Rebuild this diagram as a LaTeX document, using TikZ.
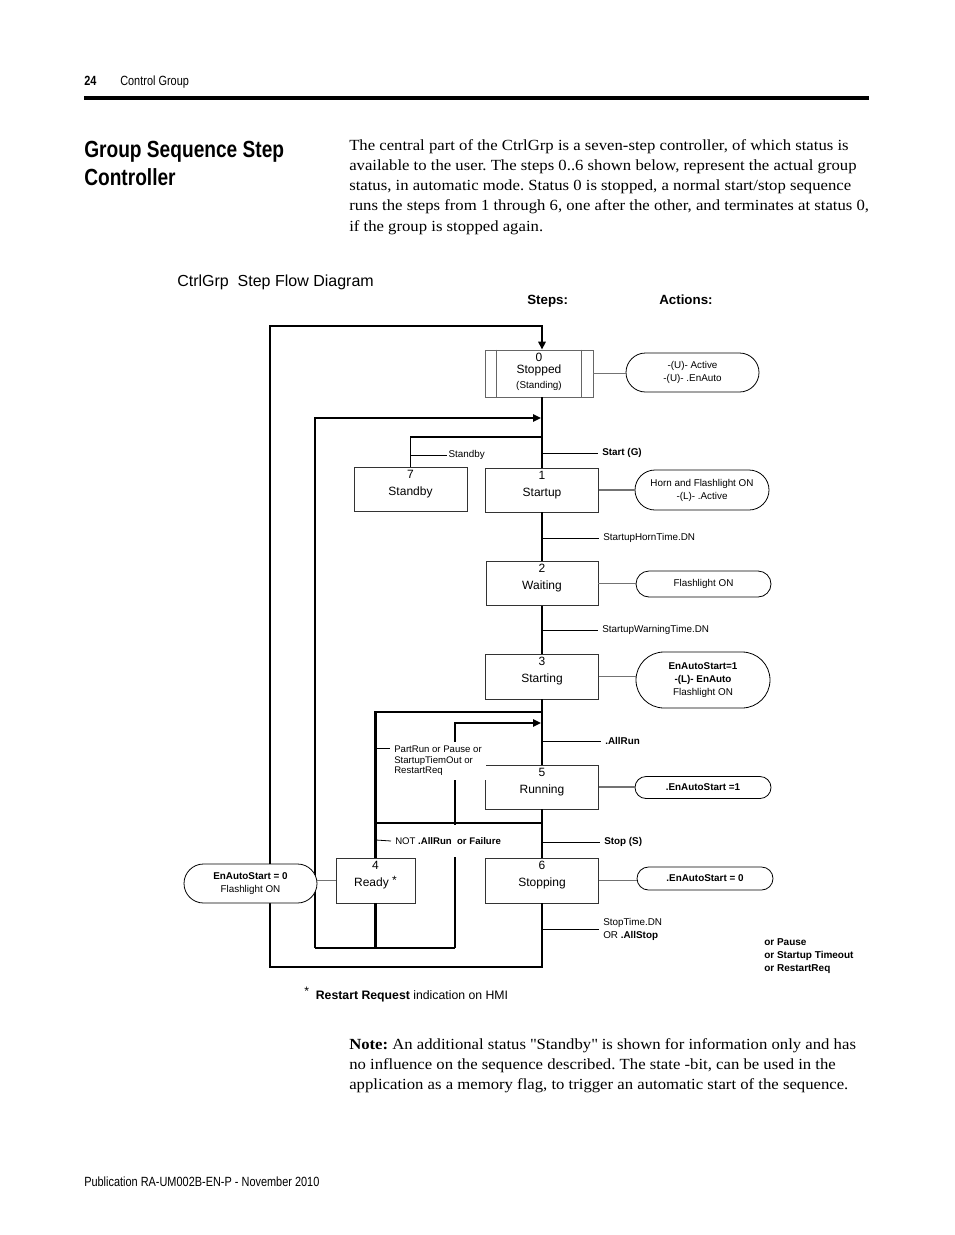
\documentclass[tikz,border=0pt]{standalone}
\usepackage{fontspec}
\setmainfont{Liberation Serif}[FakeStretch=1.08]
\newfontfamily\condfont[FakeStretch=0.82]{Liberation Sans}
\newfontfamily\diagfont{Liberation Sans}
\usetikzlibrary{arrows.meta,shapes.misc}

\newcommand{\stepfont}{\diagfont\fontsize{9}{11}\selectfont}
\newcommand{\actfont}{\diagfont\fontsize{7.4}{9.75}\selectfont}
\newcommand{\notefont}{\diagfont\fontsize{7.2}{7.9}\selectfont}
\newcommand{\bodyfont}{\fontsize{11.6}{15}\selectfont\frenchspacing}

\tikzset{
  stepbox/.style={draw=black!80, fill=white, line width=0.6pt, inner sep=0pt, font=\stepfont},
  namebox/.style={stepbox, text height=9pt, text depth=0pt},
  boxsize/.style 2 args={minimum width={#1*0.75pt}, minimum height={#2*0.75pt}},
  stepno/.style={label={[anchor=north, inner sep=2.2pt, font=\stepfont]north:#1}},
  actbox/.style={rounded rectangle, draw=black, fill=white, line width=0.6pt, inner sep=0pt, font=\actfont, align=center},
  trans/.style={font=\actfont, inner sep=3pt, anchor=west},
  txt/.style={inner sep=0pt, anchor=base west},
  mainline/.style={line width=2pt},
  loopline/.style={line width=1.6pt},
  tick/.style={line width=0.6pt},
  link/.style={draw=black!55, line width=0.8pt},
  arr/.style={-{Triangle[length=6pt,width=5.5pt]}}
}

\begin{document}
\begin{tikzpicture}[x=0.75pt,y=-0.75pt]
\useasboundingbox[fill=white] (0,0) rectangle (954,1235);

% page header
\node[txt, font=\condfont\bfseries\fontsize{10}{12}\selectfont] (pgno) at (84,85.5) {24};
\node[txt, font=\condfont\fontsize{10}{12}\selectfont] (chap) at (120,85.5) {Control Group};
\draw[line width=2.3pt] (84,98) -- (869,98);

% section title and text
\node[txt, font=\condfont\bfseries\fontsize{17.5}{21}\selectfont] (title1) at (84,157) {Group Sequence Step};
\node[txt, font=\condfont\bfseries\fontsize{17.5}{21}\selectfont] (title2) at (84,185) {Controller};
\foreach \ptext [count=\i] in {
  {The central part of the CtrlGrp is a seven-step controller, of which status is},
  {available to the user. The steps 0..6 shown below, represent the actual group},
  {status, in automatic mode. Status 0 is stopped, a normal start/stop sequence},
  {runs the steps from 1 through 6, one after the other, and terminates at status 0,},
  {if the group is stopped again.}}
  \node[txt, font=\bodyfont] (intro\i) at (349,{130+20.2*\i}) {\ptext};

% diagram headings
\node[txt, font=\diagfont\fontsize{12}{14}\selectfont] (dtitle) at (177,286.5) {CtrlGrp\ \ Step Flow Diagram};
\node[txt, font=\diagfont\bfseries\fontsize{10}{12}\selectfont] (steps) at (527,304) {Steps:};
\node[txt, font=\diagfont\bfseries\fontsize{10}{12}\selectfont] (actions) at (659,304) {Actions:};

% steps
\node[stepbox, draw=black!60, align=center, boxsize={108}{47}, stepno=0] (b0) at (539,373.5) {\\[2pt]Stopped\\[0.5pt]{\actfont (Standing)}};
\draw[black!60, line width=0.6pt] ([xshift=9pt]b0.north west) -- ([xshift=9pt]b0.south west);
\draw[black!60, line width=0.6pt] ([xshift=-9pt]b0.north east) -- ([xshift=-9pt]b0.south east);
\node[namebox, boxsize={113}{44}, stepno=7] (b7) at (410.5,489) {Standby};
\node[namebox, boxsize={113}{44}, stepno=1] (b1) at (542,490) {Startup};
\node[namebox, boxsize={112}{44}, stepno=2] (b2) at (542,583.5) {Waiting};
\node[namebox, boxsize={113}{45}, stepno=3] (b3) at (542,676.5) {Starting};
\node[namebox, boxsize={113}{44}, stepno=5] (b5) at (542,787) {Running};
\node[namebox, boxsize={79}{45}, stepno=4] (b4) at (375.5,880.5) {Ready \raisebox{1.5pt}{*}};
\node[namebox, boxsize={113}{45}, stepno=6] (b6) at (542,880.5) {Stopping};

% standby branch
\coordinate (br7) at (542,436);
\draw[tick] (br7) -| (b7.north);
\draw[tick] ([yshift=-1.3pt]br7) -- ([yshift=-1.3pt]br7 -| b7.north);

% main sequence
\draw[mainline] (b0.south -| b1.north) -- (b1.north);
\draw[mainline] (b1) -- (b2);
\draw[mainline] (b2) -- (b3);
\draw[mainline] (b3) -- (b5);
\draw[mainline] (b5) -- (b6);
\coordinate (outbl) at (270,967);
\coordinate (outtl) at (270,326);
\draw[mainline, arr] (b6.south) |- (outbl) -- (outtl) -| (b0.north -| b1.north);

% ready loops
\coordinate (jl) at (315,948);
\coordinate (jr) at (455,948);
\coordinate (in1) at (541,418);
\coordinate (in5) at (541,723);
\draw[loopline] (jl) -- (jr);
\draw[loopline] (b4.south) -- (b4.south |- jl);
\draw[loopline, arr] (jl) |- (in1);
\draw[loopline, arr] (jr) |- (in5);
\coordinate (br4) at (542,712);
\draw[loopline] (br4) -| (b4.north);
\coordinate (br6) at (542,823);
\draw[loopline] (br6) -- (br6 -| b4.north);

% actions
\node[actbox, boxsize={133}{39}] (a0) at (692.5,372.5) {-(U)- Active\\-(U)- .EnAuto};
\node[actbox, boxsize={134}{40}] (a1) at (702,490) {Horn and Flashlight ON\\-(L)- .Active};
\node[actbox, boxsize={135}{26}] (a2) at (703.5,584) {Flashlight ON};
\node[actbox, boxsize={134}{56}] (a3) at (703,680) {\textbf{EnAutoStart=1}\\\textbf{-(L)- EnAuto}\\Flashlight ON};
\node[actbox, boxsize={136}{22}] (a5) at (703,787.5) {\textbf{.EnAutoStart =1}};
\node[actbox, boxsize={136}{23}] (a6) at (705,878.5) {\textbf{.EnAutoStart = 0}};
\node[actbox, boxsize={133}{39}] (a4) at (250.5,883.5) {\textbf{EnAutoStart = 0}\\Flashlight ON};

\draw[link] (b0.east) -- (b0.east -| a0.west);
\draw[link] (b1.east) -- (b1.east -| a1.west);
\draw[link] (b2.east) -- (b2.east -| a2.west);
\draw[link] (b3.east) -- (b3.east -| a3.west);
\draw[link] (b5.east) -- (b5.east -| a5.west);
\draw[link] (b6.east) -- (b6.east -| a6.west);
\draw[link] (a4.east |- b4.west) -- (b4.west);

% transitions
\coordinate (tG) at (542,453);
\node[trans] (tGl) at (598,453) {\textbf{Start (G)}};
\draw[tick] (tG) -- (tGl.west);
\coordinate (tH) at (542,538);
\node[trans] (tHl) at (599,538) {StartupHornTime.DN};
\draw[tick] (tH) -- (tHl.west);
\coordinate (tW) at (542,630);
\node[trans] (tWl) at (598,630) {StartupWarningTime.DN};
\draw[tick] (tW) -- (tWl.west);
\coordinate (tR) at (542,741);
\node[trans] (tRl) at (601,741) {\textbf{.AllRun}};
\draw[tick] (tR) -- (tRl.west);
\coordinate (tS) at (542,842);
\node[trans] (tSl) at (600,842) {\textbf{Stop (S)}};
\draw[tick] (tS) -- (tSl.west);
\coordinate (tT) at (542,929);
\node[trans, align=left] (tTl) at (599,929) {StopTime.DN\\OR \textbf{.AllStop}};
\draw[tick] (tT) -- (tTl.west);

\node[trans, inner sep=1pt] (sbl) at (447,455) {Standby};
\draw[tick] (b7.north |- sbl.west) -- (sbl.west);

\coordinate (prt) at (376,748);
\node[trans, font=\notefont, fill=white, align=left, inner sep=3pt, anchor=north west] (prl) at (390,742) {PartRun or Pause or\\StartupTiemOut or\\RestartReq};
\draw[tick] (prt) -- (prt -| prl.west);
\coordinate (nat) at (376,840);
\node[trans, font=\notefont, fill=white, inner sep=3pt, minimum height={32*0.75pt}] (nar) at (391,841) {NOT \textbf{.AllRun\ \ or Failure}};
\draw[tick] (nat) -- (nar.west);

\node[anchor=north west, inner sep=0pt, align=left, font=\diagfont\bfseries\fontsize{7.5}{9.75}\selectfont] (orp) at (764,938) {or Pause\\or Startup Timeout\\or RestartReq};

% footnote, note, footer
\node[txt, font=\diagfont\fontsize{9.2}{11}\selectfont] (fn) at (304,999) {\raisebox{3pt}{*}\ \ \textbf{Restart Request} indication on HMI};
\foreach \ptext [count=\i] in {
  {\textbf{Note:} An additional status \textquotedbl Standby\textquotedbl{} is shown for information only and has},
  {no influence on the sequence described. The state -bit, can be used in the},
  {application as a memory flag, to trigger an automatic start of the sequence.}}
  \node[txt, font=\bodyfont] (note\i) at (349,{1029+20*\i}) {\ptext};
\node[txt, font=\condfont\fontsize{10}{12}\selectfont] (foot) at (84,1186.5) {Publication RA-UM002B-EN-P - November 2010};
\end{tikzpicture}
\end{document}
